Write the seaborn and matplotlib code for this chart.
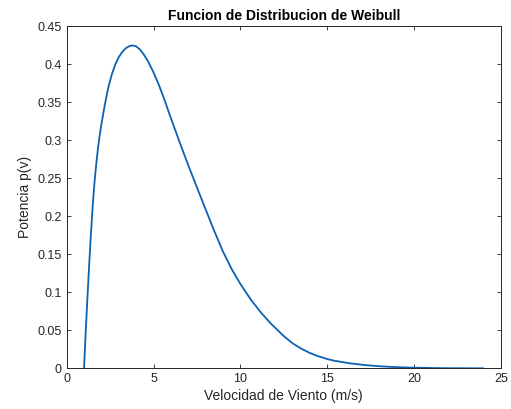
import matplotlib
matplotlib.use("Agg")
import matplotlib.pyplot as plt
import seaborn as sns
import pandas as pd
from matplotlib.ticker import FuncFormatter

# values
velocidad = [1.0, 1.1, 1.2, 1.3, 1.4, 1.5, 1.6, 1.7, 1.8, 1.9, 2.0, 2.2, 2.4, 2.6,
             2.8, 3.0, 3.2, 3.4, 3.6, 3.8, 4.0, 4.2, 4.4, 4.7, 5.0, 5.3, 5.6, 6.0,
             6.5, 7.0, 7.5, 8.0, 8.5, 9.0, 9.5, 10.0, 10.6, 11.18, 11.75, 12.52,
             13.0, 13.48, 14.0, 14.44, 15.0, 15.4, 16.36, 17.2, 18.09, 19.0, 20.0,
             21.0, 22.0, 23.0, 24.0]
potencia = [0.0, 0.050, 0.095, 0.138, 0.178, 0.214, 0.244, 0.268, 0.289, 0.306, 0.321,
            0.347, 0.3695, 0.3865, 0.3995, 0.4090, 0.4160, 0.4207, 0.4235, 0.4245,
            0.4233, 0.4195, 0.4140, 0.4030, 0.3890, 0.3730, 0.3550, 0.3290, 0.2975,
            0.2670, 0.2380, 0.2090, 0.1805, 0.1535, 0.1305, 0.1110, 0.0905, 0.0735,
            0.0590, 0.0420, 0.0330, 0.0262, 0.0202, 0.0162, 0.0122, 0.0100, 0.0064,
            0.0042, 0.0026, 0.0015, 0.0008, 0.0004, 0.00015, 0.00005, 0.0]
x_ticks = [0, 5, 10, 15, 20, 25]
y_ticks = [0, 0.05, 0.1, 0.15, 0.2, 0.25, 0.3, 0.35, 0.4, 0.45]

sns.set_style("white")
plt.rcParams['font.family'] = ['Liberation Sans', 'DejaVu Sans']

df = pd.DataFrame({"v": velocidad, "p": potencia})

fig = plt.figure(figsize=(5.11, 4.09), dpi=100)
ax = fig.add_axes([0.1305, 0.0995, 0.980 - 0.1305, 0.9364 - 0.0995])
sns.lineplot(data=df, x="v", y="p", ax=ax, color="#0c62b2", linewidth=1.3, sort=False)

ax.set_xlim(0, 25)
ax.set_ylim(0, 0.45)
ax.set_xticks(x_ticks)
ax.set_yticks(y_ticks)
fmt = FuncFormatter(lambda v, pos: "%g" % round(v, 4))
ax.xaxis.set_major_formatter(fmt)
ax.yaxis.set_major_formatter(fmt)
ax.tick_params(direction="in", length=3, width=0.6, colors="#262626", labelsize=9,
               top=True, right=True, bottom=True, left=True)
for s in ax.spines.values():
    s.set_color("#262626")
    s.set_linewidth(0.7)
ax.set_xlabel("Velocidad de Viento (m/s)", fontsize=10, color="#262626", labelpad=3)
ax.set_ylabel("Potencia p(v)", fontsize=10, color="#262626", labelpad=4)
ax.set_title("Funcion de Distribucion de Weibull", fontsize=10, fontweight="bold",
             color="black", pad=4)

fig.savefig("out.png", dpi=100)
